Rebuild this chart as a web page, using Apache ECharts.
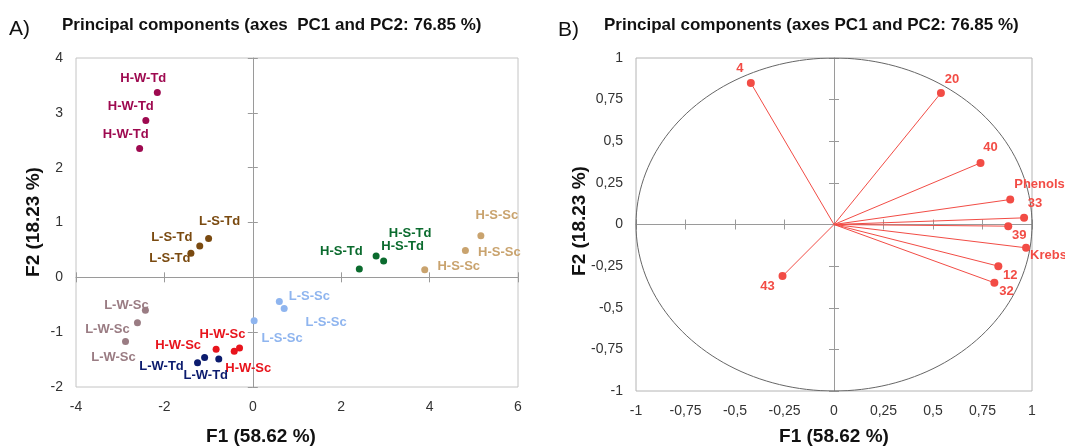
<!DOCTYPE html>
<html>
<head>
<meta charset="utf-8">
<script src="https://cdn.jsdelivr.net/npm/echarts@6/dist/echarts.min.js"></script>
<style>
html,body{margin:0;padding:0;background:#fff}
#main{width:1065px;height:446px}
</style>
</head>
<body>
<div id="main"></div>
<script>
// A) observations (3 per group)
var groupNames = ['H-W-Td', 'L-S-Td', 'L-W-Sc', 'H-W-Sc', 'L-W-Td', 'L-S-Sc', 'H-S-Td', 'H-S-Sc'];
var groupX = [
	[-2.16, -2.42, -2.56],
	[-1.00, -1.20, -1.40],
	[-2.43, -2.61, -2.88],
	[-0.83, -0.42, -0.30],
	[-1.25, -1.09, -0.77],
	[0.03, 0.60, 0.71],
	[2.41, 2.79, 2.96],
	[3.89, 4.81, 5.16]
];
var groupY = [
	[3.37, 2.86, 2.35],
	[0.71, 0.57, 0.44],
	[-0.60, -0.83, -1.17],
	[-1.31, -1.35, -1.29],
	[-1.56, -1.46, -1.49],
	[-0.79, -0.44, -0.57],
	[0.15, 0.39, 0.30],
	[0.14, 0.49, 0.76]
];
// B) variables
var varNames = ['4', '20', '40', 'Phenols', '33', '39', 'Krebs', '12', '32', '43'];
var varX = [-0.42, 0.54, 0.74, 0.89, 0.96, 0.88, 0.97, 0.83, 0.81, -0.26];
var varY = [0.85, 0.79, 0.37, 0.15, 0.04, -0.01, -0.14, -0.25, -0.35, -0.31];

// styles
var groupColors = ['#9e0a50', '#7a4a10', '#9a7c83', '#e8141c', '#0c1c6e', '#8fb5ef', '#0b6b2e', '#c9a36e'];
var groupLabelOffsets = [
	[[-14, -14], [-15, -14], [-14, -14]],
	[[11, -17], [-28, -9], [-21, 5]],
	[[-19, -5], [-30, 7], [-12, 16]],
	[[-38, -4], [14, 17], [-17, -14]],
	[[-36, 4], null, [-13, 16]],
	[[28, 18], [30, -5], [42, 14]],
	[[-18, -18], [34, -23], [19, -14]],
	[[34, -3], [34, 2], [16, -20]]
];
var varLabelOffsets = [[-11, -15], [11, -14], [10, -15], [4, -15], [11, -14], [11, 9], [4, 8], [12, 9], [12, 9], [-15, 10]];
var varLabelAlign = ['center', 'center', 'center', 'left', 'center', 'center', 'left', 'center', 'center', 'center'];
var vecColor = '#f24c45';
var fontFam = 'Arial, "Liberation Sans", sans-serif';

function comma(v) {
	return String(v).replace('.', ',');
}

// axes: main (labels), zero line with outward ticks, zero line with inward ticks
function makeAxes(dim, grid, min, max, interval, fmt) {
	var base = {
		type : 'value',
		gridIndex : grid,
		min : min,
		max : max,
		interval : interval,
		splitLine : {show : false}
	};
	var main = echarts.util.merge({
		position : dim == 'x' ? 'bottom' : 'left',
		axisLine : {show : false, onZero : false},
		axisTick : {show : false},
		axisLabel : {
			color : '#333',
			fontSize : 14,
			fontFamily : fontFam,
			margin : dim == 'x' ? 13 : 13,
			formatter : fmt
		}
	}, base, true);
	var zeroA = echarts.util.merge({
		position : dim == 'x' ? 'bottom' : 'left',
		axisLine : {show : true, onZero : true, lineStyle : {color : '#9a9a9a', width : 1}},
		axisTick : {show : true, length : 5, lineStyle : {color : '#9a9a9a'}},
		axisLabel : {show : false}
	}, base, true);
	var zeroB = echarts.util.merge({
		position : dim == 'x' ? 'bottom' : 'left',
		axisLine : {show : false, onZero : true},
		axisTick : {show : true, inside : true, length : 5, lineStyle : {color : '#9a9a9a'}},
		axisLabel : {show : false}
	}, base, true);
	return [main, zeroA, zeroB];
}

var xAxes = makeAxes('x', 0, -4, 6, 2).concat(makeAxes('x', 1, -1, 1, 0.25, comma));
var yAxes = makeAxes('y', 0, -2, 4, 1).concat(makeAxes('y', 1, -1, 1, 0.25, comma));

var series = [];
for (var g = 0; g < groupNames.length; g++) {
	var pts = [];
	for (var i = 0; i < groupX[g].length; i++) {
		var off = groupLabelOffsets[g][i];
		pts.push({
			value : [groupX[g][i], groupY[g][i]],
			label : off ? {offset : off} : {show : false}
		});
	}
	series.push({
		name : groupNames[g],
		type : 'scatter',
		xAxisIndex : 0,
		yAxisIndex : 0,
		symbolSize : 7,
		itemStyle : {color : groupColors[g], opacity : 1},
		label : {
			show : true,
			position : 'inside',
			formatter : groupNames[g],
			color : groupColors[g],
			fontSize : 13,
			fontWeight : 'bold',
			fontFamily : fontFam
		},
		data : pts,
		z : 5
	});
}

// unit circle of correlations
var circle = [];
for (var a = 0; a <= 360; a += 2) {
	circle.push([Math.cos(a * Math.PI / 180), Math.sin(a * Math.PI / 180)]);
}
series.push({
	type : 'line',
	xAxisIndex : 3,
	yAxisIndex : 3,
	data : circle,
	showSymbol : false,
	silent : true,
	lineStyle : {color : '#666', width : 1},
	z : 2
});

var vecPts = [];
var vecLines = [];
for (var v = 0; v < varNames.length; v++) {
	vecPts.push({
		value : [varX[v], varY[v]],
		name : varNames[v],
		label : {offset : varLabelOffsets[v], align : varLabelAlign[v]}
	});
	vecLines.push([{coord : [0, 0]}, {coord : [varX[v], varY[v]]}]);
}
series.push({
	type : 'scatter',
	xAxisIndex : 3,
	yAxisIndex : 3,
	symbolSize : 8,
	itemStyle : {color : vecColor, opacity : 1},
	label : {
		show : true,
		position : 'inside',
		formatter : '{b}',
		color : vecColor,
		fontSize : 13,
		fontWeight : 'bold',
		fontFamily : fontFam
	},
	markLine : {
		silent : true,
		symbol : ['none', 'none'],
		label : {show : false},
		lineStyle : {color : vecColor, width : 1, type : 'solid'},
		data : vecLines
	},
	data : vecPts,
	z : 5
});

function txt(x, y, text, size, bold, extra) {
	return echarts.util.merge({
		type : 'text',
		x : x,
		y : y,
		style : {
			text : text,
			font : (bold ? 'bold ' : '') + size + 'px ' + fontFam,
			fill : '#111',
			align : 'left',
			verticalAlign : 'middle'
		}
	}, extra || {}, true);
}

var mycharts = echarts.init(document.getElementById('main'));
var option = {
	animation : false,
	backgroundColor : '#fff',
	grid : [
		{left : 76, top : 58, width : 442, height : 329, show : true, borderColor : '#c4c4c4', borderWidth : 1, backgroundColor : 'transparent'},
		{left : 636, top : 58, width : 396, height : 333, show : true, borderColor : '#b4b4b4', borderWidth : 1, backgroundColor : 'transparent'}
	],
	xAxis : xAxes,
	yAxis : yAxes,
	series : series,
	graphic : [
		txt(9, 29, 'A)', 21, false),
		txt(62, 25, 'Principal components (axes  PC1 and PC2: 76.85 %)', 17, true),
		txt(558, 30, 'B)', 21, false),
		txt(604, 25, 'Principal components (axes PC1 and PC2: 76.85 %)', 17, true),
		txt(261, 437, 'F1 (58.62 %)', 19, true, {style : {align : 'center'}}),
		txt(834, 437, 'F1 (58.62 %)', 19, true, {style : {align : 'center'}}),
		txt(34, 222, 'F2 (18.23 %)', 19, true, {rotation : Math.PI / 2, style : {align : 'center'}}),
		txt(580, 221, 'F2 (18.23 %)', 19, true, {rotation : Math.PI / 2, style : {align : 'center'}})
	]
};
mycharts.setOption(option);
</script>
</body>
</html>
